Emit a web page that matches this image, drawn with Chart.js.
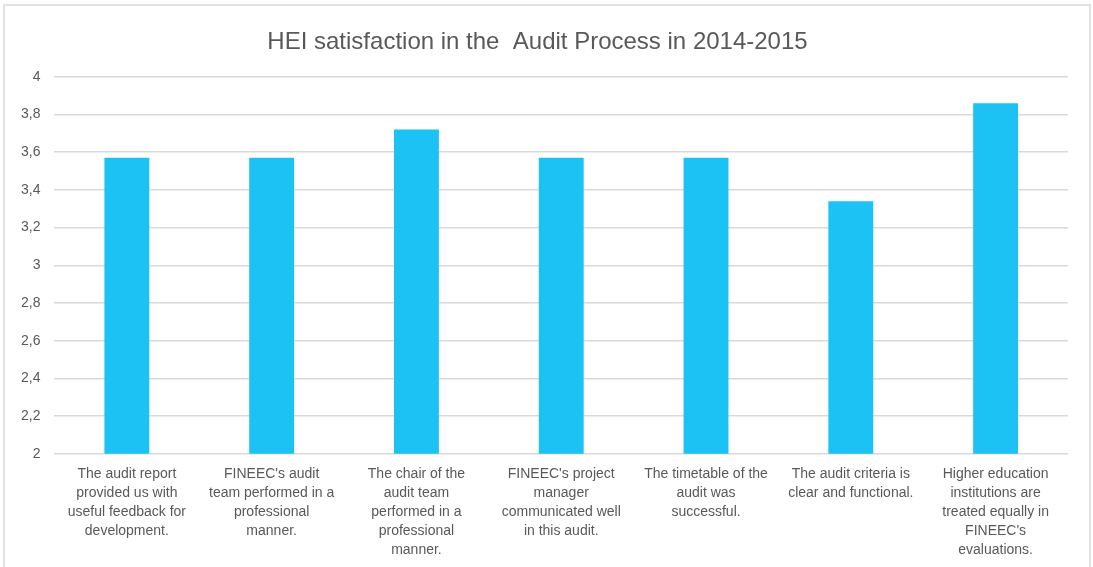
<!DOCTYPE html>
<html>
<head>
<meta charset="utf-8">
<script src="https://cdn.jsdelivr.net/npm/chart.js@4/dist/chart.umd.min.js"></script>
<style>
  html, body { margin: 0; padding: 0; background: #fff; }
  body { width: 1093px; height: 567px; overflow: hidden; position: relative; }
  #frame {
    position: absolute; left: 3px; top: 4px; width: 1088px; height: 580px;
    border: 2px solid #e2e2e2; box-sizing: border-box;
  }
  #wrap { position: absolute; left: 5px; top: 6px; width: 1082px; height: 557px; }
</style>
</head>
<body>
<div id="frame"></div>
<div id="wrap"><canvas id="audit"></canvas></div>
<script>
const title = 'HEI satisfaction in the  Audit Process in 2014-2015'

const statements = [
  ['The audit report', 'provided us with', 'useful feedback for', 'development.'],
  ["FINEEC's audit", 'team performed in a', 'professional', 'manner.'],
  ['The chair of the', 'audit team', 'performed in a', 'professional', 'manner.'],
  ["FINEEC's project", 'manager', 'communicated well', 'in this audit.'],
  ['The timetable of the', 'audit was', 'successful.'],
  ['The audit criteria is', 'clear and functional.'],
  ['Higher education', 'institutions are', 'treated equally in', "FINEEC's", 'evaluations.']
]

const satisfaction = [3.57, 3.57, 3.72, 3.57, 3.57, 3.34, 3.86]

const textGrey = '#595959'
const gridGrey = '#d9d9d9'

const ctx = document.getElementById('audit').getContext('2d')

new Chart(ctx, {
  type: 'bar',
  data: {
    labels: statements,
    datasets: [{
      label: 'Satisfaction',
      data: satisfaction,
      backgroundColor: '#1cc2f3',
      borderWidth: 0,
      categoryPercentage: 1,
      barPercentage: 0.31
    }]
  },
  options: {
    responsive: true,
    maintainAspectRatio: false,
    animation: false,
    layout: { padding: { left: 2, right: 19, top: 22, bottom: 0 } },
    plugins: {
      legend: { display: false },
      tooltip: { enabled: false },
      title: {
        display: true,
        text: title,
        color: textGrey,
        font: { family: 'Liberation Sans, Arial, sans-serif', size: 24, weight: 'normal' },
        padding: { top: 0, bottom: 20 }
      }
    },
    scales: {
      x: {
        grid: { display: false },
        border: { display: false },
        ticks: {
          color: textGrey,
          font: { family: 'Liberation Sans, Arial, sans-serif', size: 14, lineHeight: 1.36 },
          maxRotation: 0,
          autoSkip: false,
          padding: 3
        }
      },
      y: {
        min: 2,
        max: 4,
        grid: { color: gridGrey, lineWidth: 1.5, drawTicks: false },
        border: { display: false },
        ticks: {
          stepSize: 0.2,
          color: textGrey,
          font: { family: 'Liberation Sans, Arial, sans-serif', size: 14 },
          padding: 14,
          callback: v => String(Math.round(v * 10) / 10).replace('.', ',')
        }
      }
    }
  }
})
</script>
</body>
</html>
